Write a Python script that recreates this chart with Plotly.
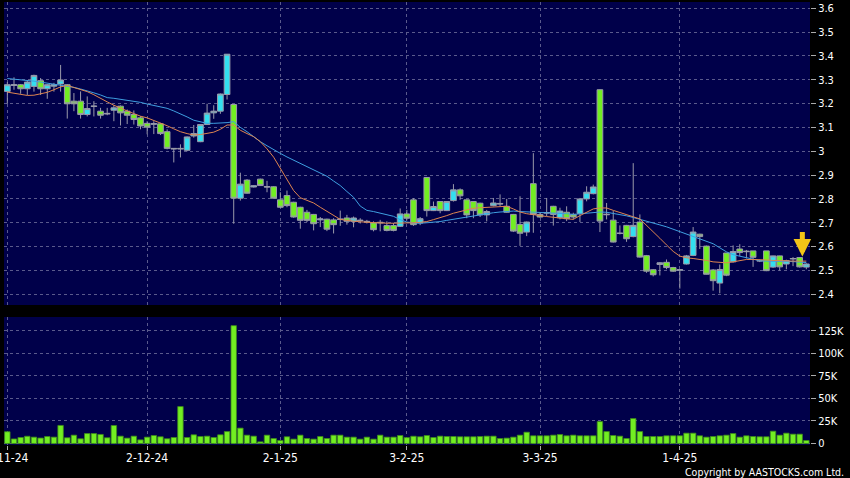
import plotly.graph_objects as go

# ---------------- data ----------------
tick_idx = [0, 21, 41, 60, 80, 101]
tick_labels = ["1-11-24", "2-12-24", "2-1-25", "3-2-25", "3-3-25", "1-4-25"]

price_ticks = [2.4, 2.5, 2.6, 2.7, 2.8, 2.9, 3.0, 3.1, 3.2, 3.3, 3.4, 3.5, 3.6]
price_tick_text = ["2.4", "2.5", "2.6", "2.7", "2.8", "2.9", "3", "3.1", "3.2", "3.3", "3.4", "3.5", "3.6"]
vol_ticks = [0, 25000, 50000, 75000, 100000, 125000]
vol_tick_text = ["0", "25K", "50K", "75K", "100K", "125K"]

open_ = [3.251, 3.276, 3.279, 3.262, 3.272, 3.296, 3.262, 3.273, 3.282, 3.279,
         3.21, 3.21, 3.154, 3.19, 3.168, 3.159, 3.172, 3.189, 3.168, 3.154,
         3.14, 3.117, 3.113, 3.115, 3.082, 3.012, 3.012, 3.004, 3.064, 3.04,
         3.112, 3.161, 3.168, 3.238, 3.196, 2.803, 2.879, 2.85, 2.883, 2.852,
         2.851, 2.796, 2.814, 2.786, 2.765, 2.744, 2.735, 2.712, 2.715, 2.712,
         2.716, 2.72, 2.706, 2.711, 2.706, 2.699, 2.702, 2.688, 2.688, 2.685,
         2.737, 2.796, 2.699, 2.89, 2.751, 2.789, 2.751, 2.793, 2.838, 2.796,
         2.789, 2.782, 2.733, 2.772, 2.781, 2.769, 2.735, 2.693, 2.661, 2.864,
         2.735, 2.743, 2.769, 2.721, 2.744, 2.735, 2.739, 2.80, 2.822, 3.258,
         2.736, 2.711, 2.657, 2.689, 2.642, 2.703, 2.562, 2.503, 2.525, 2.534,
         2.512, 2.501, 2.527, 2.563, 2.652, 2.602, 2.502, 2.447, 2.573, 2.536,
         2.59, 2.581, 2.582, 2.541, 2.582, 2.514, 2.561, 2.527, 2.548, 2.554,
         2.514]
high = [3.29, 3.31, 3.282, 3.296, 3.321, 3.307, 3.282, 3.287, 3.362, 3.282,
        3.244, 3.251, 3.23, 3.21, 3.182, 3.182, 3.193, 3.192, 3.175, 3.171,
        3.147, 3.126, 3.126, 3.119, 3.092, 3.013, 3.029, 3.062, 3.11, 3.112,
        3.199, 3.193, 3.242, 3.407, 3.198, 2.91, 2.883, 2.857, 2.885, 2.876,
        2.853, 2.828, 2.835, 2.788, 2.767, 2.754, 2.737, 2.724, 2.717, 2.719,
        2.751, 2.733, 2.726, 2.719, 2.712, 2.706, 2.712, 2.706, 2.699, 2.76,
        2.754, 2.803, 2.724, 2.892, 2.789, 2.791, 2.791, 2.862, 2.844, 2.798,
        2.791, 2.784, 2.754, 2.804, 2.819, 2.80, 2.737, 2.811, 2.705, 2.992,
        2.742, 2.804, 2.771, 2.763, 2.769, 2.742, 2.804, 2.853, 2.86, 3.26,
        2.783, 2.749, 2.689, 2.691, 2.95, 2.735, 2.565, 2.506, 2.535, 2.546,
        2.515, 2.505, 2.565, 2.682, 2.654, 2.604, 2.506, 2.525, 2.573, 2.605,
        2.61, 2.586, 2.582, 2.545, 2.582, 2.562, 2.562, 2.545, 2.556, 2.556,
        2.53]
low = [3.199, 3.258, 3.241, 3.236, 3.25, 3.236, 3.22, 3.25, 3.25, 3.137,
       3.168, 3.137, 3.146, 3.146, 3.137, 3.151, 3.126, 3.108, 3.114, 3.112,
       3.092, 3.071, 3.072, 3.068, 3.008, 2.953, 2.974, 3.0, 3.057, 3.038,
       3.11, 3.136, 3.157, 3.217, 2.696, 2.793, 2.822, 2.848, 2.854, 2.828,
       2.801, 2.762, 2.765, 2.721, 2.675, 2.703, 2.668, 2.682, 2.665, 2.655,
       2.687, 2.692, 2.681, 2.697, 2.697, 2.664, 2.664, 2.664, 2.664, 2.682,
       2.71, 2.687, 2.69, 2.726, 2.749, 2.74, 2.749, 2.789, 2.796, 2.719,
       2.719, 2.724, 2.706, 2.769, 2.769, 2.742, 2.661, 2.603, 2.644, 2.658,
       2.721, 2.728, 2.688, 2.714, 2.707, 2.714, 2.703, 2.79, 2.819, 2.661,
       2.714, 2.617, 2.651, 2.62, 2.639, 2.554, 2.49, 2.475, 2.479, 2.505,
       2.494, 2.424, 2.525, 2.56, 2.59, 2.483, 2.415, 2.404, 2.476, 2.533,
       2.56, 2.55, 2.515, 2.535, 2.497, 2.51, 2.50, 2.505, 2.518, 2.512,
       2.505]
close = [3.279, 3.279, 3.262, 3.29, 3.318, 3.262, 3.279, 3.279, 3.299, 3.199,
         3.199, 3.154, 3.179, 3.188, 3.151, 3.157, 3.182, 3.161, 3.151, 3.133,
         3.106, 3.101, 3.116, 3.074, 3.012, 3.01, 3.01, 3.06, 3.074, 3.112,
         3.16, 3.168, 3.24, 3.407, 2.803, 2.862, 2.824, 2.855, 2.856, 2.85,
         2.803, 2.765, 2.772, 2.724, 2.71, 2.71, 2.696, 2.716, 2.673, 2.692,
         2.714, 2.706, 2.72, 2.709, 2.704, 2.671, 2.70, 2.668, 2.668, 2.737,
         2.719, 2.692, 2.717, 2.751, 2.768, 2.751, 2.789, 2.838, 2.813, 2.733,
         2.751, 2.733, 2.747, 2.783, 2.779, 2.744, 2.665, 2.656, 2.703, 2.735,
         2.724, 2.741, 2.735, 2.749, 2.717, 2.724, 2.80, 2.828, 2.85, 2.707,
         2.734, 2.619, 2.655, 2.633, 2.689, 2.556, 2.497, 2.482, 2.532, 2.512,
         2.497, 2.503, 2.561, 2.661, 2.642, 2.484, 2.457, 2.504, 2.48, 2.579,
         2.575, 2.579, 2.555, 2.54, 2.499, 2.561, 2.515, 2.541, 2.55, 2.515,
         2.527]
ma_short = [3.248, 3.243, 3.238, 3.234, 3.235, 3.24, 3.247, 3.258, 3.27, 3.276,
            3.268, 3.258, 3.25, 3.237, 3.221, 3.207, 3.193, 3.18, 3.169, 3.158,
            3.147, 3.14, 3.13, 3.12, 3.107, 3.094, 3.082, 3.074, 3.068, 3.07,
            3.074, 3.08, 3.092, 3.11, 3.11, 3.088, 3.074, 3.061, 3.04, 3.01,
            2.975, 2.93, 2.88, 2.835, 2.805, 2.794, 2.783, 2.765, 2.748, 2.73,
            2.714, 2.71, 2.706, 2.704, 2.702, 2.70, 2.699, 2.698, 2.698, 2.698,
            2.698, 2.70, 2.702, 2.705, 2.713, 2.72, 2.73, 2.74, 2.748, 2.755,
            2.761, 2.763, 2.765, 2.767, 2.768, 2.769, 2.758, 2.745, 2.738, 2.733,
            2.73, 2.726, 2.723, 2.72, 2.716, 2.714, 2.73, 2.745, 2.758, 2.762,
            2.762, 2.752, 2.742, 2.733, 2.725, 2.716, 2.69, 2.665, 2.635, 2.607,
            2.58, 2.56, 2.553, 2.55, 2.547, 2.542, 2.536, 2.533, 2.532, 2.536,
            2.541, 2.546, 2.546, 2.546, 2.544, 2.542, 2.54, 2.539, 2.539, 2.539,
            2.539]
ma_long = [3.305, 3.303, 3.30, 3.297, 3.294, 3.29, 3.286, 3.282, 3.279, 3.275,
           3.268, 3.261, 3.254, 3.245, 3.236, 3.225, 3.222, 3.218, 3.214, 3.211,
           3.205, 3.198, 3.193, 3.187, 3.18, 3.169, 3.158, 3.144, 3.13, 3.124,
           3.117, 3.117, 3.117, 3.12, 3.124, 3.10, 3.082, 3.06, 3.04, 3.023,
           3.006, 2.991, 2.976, 2.962, 2.949, 2.935, 2.922, 2.909, 2.895, 2.875,
           2.856, 2.831, 2.807, 2.77, 2.752, 2.747, 2.741, 2.734, 2.727, 2.713,
           2.703, 2.70, 2.698, 2.70, 2.702, 2.705, 2.71, 2.715, 2.72, 2.725,
           2.73, 2.735, 2.74, 2.742, 2.745, 2.748, 2.749, 2.747, 2.746, 2.744,
           2.743, 2.742, 2.742, 2.74, 2.738, 2.735, 2.738, 2.741, 2.744, 2.745,
           2.744, 2.74, 2.735, 2.729, 2.722, 2.715, 2.708, 2.70, 2.691, 2.683,
           2.673, 2.663, 2.652, 2.643, 2.633, 2.623, 2.612, 2.595, 2.578, 2.566,
           2.559, 2.552, 2.546, 2.541, 2.539, 2.539, 2.539, 2.539, 2.537, 2.535,
           2.533]
volume = [13000, 5000, 6600, 8000, 7000, 6000, 7700, 7000, 20000, 6300,
          9200, 5200, 11000, 11000, 10000, 6300, 19900, 8100, 5900, 8100,
          4000, 7000, 8800, 7400, 5200, 6600, 40900, 6600, 9600, 7700,
          8100, 6600, 9600, 13200, 130600, 17000, 9200, 8100, 1800, 9200,
          5500, 3300, 7400, 4800, 9200, 5500, 4800, 7700, 5500, 9200,
          9200, 7000, 7000, 4800, 7000, 4800, 9200, 7000, 7000, 8800,
          6500, 8000, 7400, 8800, 6600, 8100, 7700, 7700, 7400, 7400,
          7400, 7700, 8100, 8100, 5500, 5900, 7000, 9200, 12500, 8500,
          8500, 8500, 9200, 9900, 8500, 9200, 8500, 8500, 8500, 24300,
          13200, 8800, 8100, 5500, 27600, 13200, 7700, 7700, 7700, 8500,
          8500, 8500, 11400, 11400, 8500, 7000, 7700, 8500, 9200, 11000,
          7000, 8500, 7700, 7400, 7400, 13600, 9200, 11400, 10300, 10300,
          3300]

idx = list(range(len(close)))

# ---------------- style ----------------
BG = "#00004a"
GRID = "#5a5a8c"
CYAN = "#33dff0"
LIME = "#72ee22"
WICK = "#9a9aaa"
ORANGE = "#de8550"
BLUE = "#3f9fe0"
FONT = "DejaVu Sans Condensed, DejaVu Sans, sans-serif"

fig = go.Figure()
fig.add_trace(go.Candlestick(
    x=idx, open=open_, high=high, low=low, close=close,
    xaxis="x", yaxis="y", whiskerwidth=0,
    increasing=dict(fillcolor=CYAN, line=dict(color=WICK, width=1)),
    decreasing=dict(fillcolor=LIME, line=dict(color=WICK, width=1)),
    hoverinfo="skip",
))
fig.add_trace(go.Scatter(x=idx, y=ma_long, mode="lines", xaxis="x", yaxis="y",
                         line=dict(color=BLUE, width=1), hoverinfo="skip"))
fig.add_trace(go.Scatter(x=idx, y=ma_short, mode="lines", xaxis="x", yaxis="y",
                         line=dict(color=ORANGE, width=1), hoverinfo="skip"))
fig.add_trace(go.Bar(x=idx, y=volume, xaxis="x2", yaxis="y2", width=0.82,
                     marker=dict(color=LIME, line=dict(color="#3d8a1c", width=0.8)),
                     hoverinfo="skip"))

xr = [-0.5, len(close) - 0.45]
common_x = dict(range=xr, tickvals=tick_idx, showgrid=True, gridcolor=GRID,
                griddash="3px,3px", gridwidth=1, zeroline=False, showline=False,
                automargin=False)

fig.update_layout(
    width=850, height=478,
    margin=dict(l=4, r=40, t=0, b=0, autoexpand=False),
    paper_bgcolor="#000000", plot_bgcolor=BG,
    showlegend=False, hovermode=False,
    boxgap=0.05, boxgroupgap=0.1,
    font=dict(family=FONT, color="#ffffff", size=10),
    xaxis=dict(domain=[0, 1], anchor="y", showticklabels=False, ticks="",
               rangeslider=dict(visible=False), **common_x),
    xaxis2=dict(domain=[0, 1], anchor="y2", ticktext=tick_labels, ticks="outside",
                ticklen=4, tickcolor="#aaaaaa", ticklabeloverflow="allow",
                ticklabelstandoff=-2,
                tickfont=dict(size=12, color="#ffffff", family=FONT), **common_x),
    yaxis=dict(domain=[1 - 305 / 478, 1 - 2 / 478], anchor="x", side="right",
               range=[2.355, 3.626], tickvals=price_ticks, ticktext=price_tick_text,
               ticks="outside", ticklen=5, tickcolor="#aaaaaa", automargin=False,
               ticklabeloverflow="allow",
               tickfont=dict(size=11, color="#ffffff", family=FONT),
               showgrid=True, gridcolor=GRID, griddash="3px,3px", zeroline=False),
    yaxis2=dict(domain=[1 - 445 / 478, 1 - 317 / 478], anchor="x2", side="right",
                range=[-1700, 140200], tickvals=vol_ticks, ticktext=vol_tick_text,
                ticks="outside", ticklen=5, tickcolor="#aaaaaa", automargin=False,
                ticklabeloverflow="allow",
                tickfont=dict(size=11, color="#ffffff", family=FONT),
                showgrid=True, gridcolor=GRID, griddash="3px,3px", zeroline=False),
)

# marker arrow above the latest sessions
fig.add_annotation(x=len(close) - 1.6, y=max(high[-3:]) + 0.002, xref="x", yref="y",
                   text="", showarrow=True, arrowhead=2, arrowsize=0.7, arrowwidth=5,
                   arrowcolor="#f2c418", ax=0, ay=-26)

fig.add_annotation(x=1.0447, y=1 - 472 / 478, xref="paper", yref="paper",
                   xanchor="right", yanchor="middle", showarrow=False,
                   text="Copyright by AASTOCKS.com Ltd.",
                   font=dict(size=10.5, color="#ffffff", family=FONT))

fig.write_html(
    "out.html",
    config={"displayModeBar": False, "staticPlot": True},
    post_script="document.body.style.margin='0';document.body.style.background='#000';",
)
